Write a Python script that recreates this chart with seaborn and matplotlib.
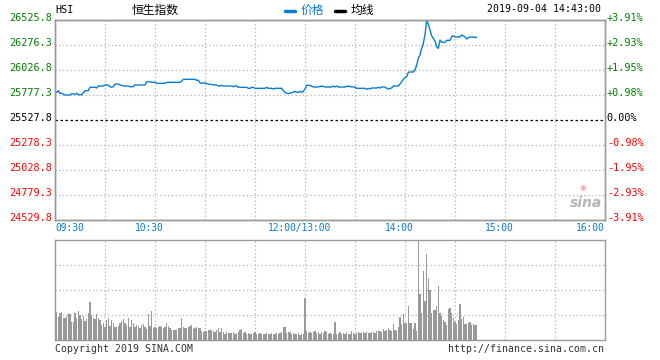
import numpy as np
import pandas as pd
import matplotlib
matplotlib.use("Agg")
import matplotlib.pyplot as plt
import matplotlib.transforms as mtrans
import seaborn as sns

# HSI intraday, 2019-09-04, one value per trading minute (09:30 .. 14:43)
price = [
    25804, 25804, 25820, 25794, 25794, 25787, 25777, 25777, 25777, 25777,
    25790, 25790, 25784, 25794, 25780, 25780, 25780, 25800, 25820, 25820,
    25820, 25854, 25854, 25854, 25854, 25847, 25867, 25867, 25867, 25867,
    25877, 25877, 25877, 25860, 25854, 25860, 25887, 25887, 25887, 25877,
    25874, 25867, 25867, 25867, 25867, 25860, 25860, 25860, 25880, 25877,
    25877, 25877, 25877, 25877, 25877, 25910, 25910, 25910, 25904, 25904,
    25904, 25894, 25894, 25894, 25894, 25894, 25894, 25904, 25904, 25904,
    25904, 25904, 25904, 25904, 25904, 25904, 25914, 25934, 25934, 25934,
    25934, 25934, 25934, 25934, 25934, 25924, 25924, 25900, 25894, 25900,
    25894, 25894, 25884, 25884, 25884, 25877, 25877, 25877, 25867, 25867,
    25874, 25867, 25867, 25867, 25867, 25867, 25867, 25860, 25867, 25867,
    25854, 25854, 25854, 25854, 25854, 25854, 25844, 25844, 25854, 25854,
    25844, 25844, 25844, 25844, 25844, 25844, 25844, 25854, 25844, 25844,
    25844, 25837, 25844, 25844, 25844, 25844, 25844, 25820, 25804, 25794,
    25794, 25794, 25800, 25807, 25814, 25804, 25804, 25814, 25804, 25814,
    25837, 25874, 25874, 25874, 25867, 25857, 25857, 25857, 25857, 25864,
    25864, 25864, 25857, 25857, 25857, 25857, 25857, 25867, 25857, 25867,
    25857, 25857, 25857, 25857, 25857, 25864, 25864, 25864, 25857, 25857,
    25857, 25844, 25844, 25844, 25844, 25844, 25844, 25834, 25844, 25837,
    25847, 25847, 25847, 25847, 25854, 25847, 25857, 25857, 25857, 25844,
    25837, 25844, 25847, 25867, 25867, 25867, 25867, 25887, 25910, 25934,
    25950, 25960, 26004, 26007, 26007, 26007, 26027, 26077, 26144, 26177,
    26243, 26293, 26376, 26521, 26483, 26426, 26369, 26343, 26316, 26259,
    26243, 26326, 26303, 26303, 26303, 26323, 26323, 26323, 26359, 26369,
    26356, 26356, 26359, 26356, 26376, 26369, 26356, 26336, 26349, 26356,
    26356, 26356, 26349, 26356,
]

# volume per minute (relative units, panel max = 100)
volume = [
    30, 28, 23, 27, 28, 22, 22, 24, 27, 26,
    18, 18, 27, 22, 29, 25, 21, 24, 19, 21,
    27, 38, 25, 22, 21, 26, 22, 20, 15, 17,
    13, 20, 22, 14, 20, 17, 13, 13, 14, 17,
    19, 21, 17, 15, 22, 13, 20, 17, 13, 15,
    14, 12, 15, 16, 13, 11, 26, 14, 29, 12,
    13, 12, 13, 14, 13, 12, 13, 17, 14, 12,
    10, 10, 10, 10, 12, 12, 22, 13, 12, 12,
    13, 14, 15, 11, 12, 13, 12, 12, 9, 8,
    9, 9, 10, 10, 10, 9, 8, 10, 12, 8,
    12, 8, 6, 8, 7, 7, 7, 8, 6, 7,
    8, 10, 11, 7, 8, 6, 7, 6, 6, 7,
    8, 6, 6, 7, 6, 6, 6, 7, 6, 6,
    7, 6, 6, 7, 6, 7, 8, 13, 13, 7,
    8, 8, 6, 7, 6, 6, 7, 5, 6, 6,
    42, 9, 7, 8, 7, 8, 9, 7, 8, 6,
    8, 7, 9, 8, 6, 7, 6, 6, 18, 6,
    6, 8, 6, 7, 6, 8, 6, 6, 9, 7,
    6, 7, 8, 7, 7, 8, 7, 8, 7, 7,
    8, 8, 7, 9, 9, 9, 8, 11, 9, 10,
    12, 10, 9, 16, 10, 9, 13, 23, 16, 26,
    17, 17, 34, 17, 17, 11, 17, 9, 100, 46,
    27, 69, 39, 86, 62, 50, 27, 30, 30, 34,
    54, 27, 24, 20, 18, 15, 31, 32, 27, 22,
    18, 16, 20, 36, 21, 23, 16, 16, 17, 18,
    15, 16, 15, 15,
]

prev_close = 25527.8
price_ticks = [24529.8, 24779.3, 25028.8, 25278.3, 25527.8,
               25777.3, 26026.8, 26276.3, 26525.8]
pct_labels = ["-3.91%", "-2.93%", "-1.95%", "-0.98%", "0.00%",
              "+0.98%", "+1.95%", "+2.93%", "+3.91%"]
time_ticks = [0, 60, 150, 210, 270, 330]
time_labels = ["09:30", "10:30", "12:00/13:00", "14:00", "15:00", "16:00"]

df = pd.DataFrame({"minute": np.arange(len(price)), "price": price, "volume": volume})

sns.set_theme(style="white")
plt.rcParams["font.family"] = ["DejaVu Sans Mono", "Noto Sans CJK SC"]

W, H = 660, 360
fig = plt.figure(figsize=(6.6, 3.6), dpi=100)


def px_box(x0, y0, x1, y1):
    return [x0 / W, 1 - y1 / H, (x1 - x0) / W, (y1 - y0) / H]


ax = fig.add_axes(px_box(55, 20, 605, 220))
axv = fig.add_axes(px_box(55, 240, 605, 340))

grid_kw = dict(color="#b0b0b0", linewidth=0.9, linestyle=(0, (1, 2)), zorder=0)
border = "#999999"

# price panel
for v in price_ticks:
    if v == prev_close:
        ax.axhline(v, color="black", linewidth=0.9, linestyle=(0, (2, 2)), zorder=1)
    else:
        ax.axhline(v, **grid_kw)
for t in range(30, 330, 30):
    ax.axvline(t, **grid_kw)

sns.lineplot(data=df, x="minute", y="price", ax=ax, color="#0a7bd3", linewidth=1.0, zorder=3)
ax.set_xlim(0, 330)
ax.set_ylim(price_ticks[0], price_ticks[-1])
ax.set_xlabel("")
ax.set_ylabel("")


def col(i):
    if i > 4:
        return "#008000"
    if i < 4:
        return "#ff0000"
    return "black"


up = mtrans.ScaledTranslation(0, 3 / 100, fig.dpi_scale_trans)
ax.set_yticks(price_ticks)
ax.set_yticklabels([f"{v:.1f}" for v in price_ticks])
ax.tick_params(axis="y", length=0, pad=2.2, labelsize=7.3)
for i, lab in enumerate(ax.get_yticklabels()):
    lab.set_color(col(i))
    lab.set_transform(lab.get_transform() + up)

ax2 = ax.twinx()
ax2.set_ylim(ax.get_ylim())
ax2.set_yticks(price_ticks)
ax2.set_yticklabels(pct_labels)
ax2.tick_params(axis="y", length=0, pad=1.3, labelsize=7.3)
for i, lab in enumerate(ax2.get_yticklabels()):
    lab.set_color(col(i))
    lab.set_transform(lab.get_transform() + up)

ax.set_xticks(time_ticks)
ax.set_xticklabels(time_labels)
ax.tick_params(axis="x", length=0, pad=2.0, labelsize=6.9, labelcolor="#0a7bd3")
shift = mtrans.ScaledTranslation(-6 / 100, 0, fig.dpi_scale_trans)
xl = ax.get_xticklabels()
for lab in xl[1:-1]:
    lab.set_transform(lab.get_transform() + shift)
xl[0].set_ha("left")
xl[-1].set_ha("right")

for a in (ax, ax2):
    for s in a.spines.values():
        s.set_color(border)
        s.set_linewidth(1)

# volume panel
for v in (25, 50, 75):
    axv.axhline(v, **grid_kw)
for t in range(30, 330, 30):
    axv.axvline(t, **grid_kw)
sns.barplot(data=df, x="minute", y="volume", ax=axv, native_scale=True,
            color="#999999", saturation=1, width=0.65, errorbar=None,
            linewidth=0, antialiased=False, zorder=2)
axv.set_xlim(0, 330)
axv.set_ylim(0, 100)
axv.set_xticks([])
axv.set_yticks([])
axv.set_xlabel("")
axv.set_ylabel("")
for s in axv.spines.values():
    s.set_color(border)
    s.set_linewidth(1)

# header
fig.text(55 / W, 1 - 10 / H, "HSI", fontsize=7.3, va="center", ha="left", color="black")
fig.text(155 / W, 1 - 10 / H, "恒生指数", fontsize=8.5, va="center", ha="center",
         family=["Noto Sans CJK SC"], color="black")
fig.lines.append(plt.Line2D([285 / W, 295 / W], [1 - 11 / H, 1 - 11 / H],
                            transform=fig.transFigure, color="#0a7bd3", linewidth=2.5))
fig.text(301 / W, 1 - 10 / H, "价格", fontsize=8.5, va="center", ha="left",
         family=["Noto Sans CJK SC"], color="#0a7bd3")
fig.lines.append(plt.Line2D([335 / W, 345 / W], [1 - 11 / H, 1 - 11 / H],
                            transform=fig.transFigure, color="black", linewidth=2.5))
fig.text(351 / W, 1 - 10 / H, "均线", fontsize=8.5, va="center", ha="left",
         family=["Noto Sans CJK SC"], color="black")
fig.text(601 / W, 1 - 9 / H, "2019-09-04 14:43:00", fontsize=7.1, va="center", ha="right",
         color="black")

# footer
fig.text(55 / W, 1 - 349 / H, "Copyright 2019 SINA.COM", fontsize=7.1, va="center",
         ha="left", color="#333333")
fig.text(604 / W, 1 - 349 / H, "http://finance.sina.com.cn", fontsize=7.1, va="center",
         ha="right", color="#333333")

# watermark
fig.text(586 / W, 1 - 203 / H, "sina", fontsize=10, style="italic", weight="bold",
         family=["DejaVu Sans"], color="#b5b5b5", ha="center", va="center")
fig.text(583 / W, 1 - 187 / H, "◉", fontsize=5.5, family=["DejaVu Sans"],
         color="#f3a0a0", ha="center", va="center")

fig.savefig("out.png", dpi=100)
